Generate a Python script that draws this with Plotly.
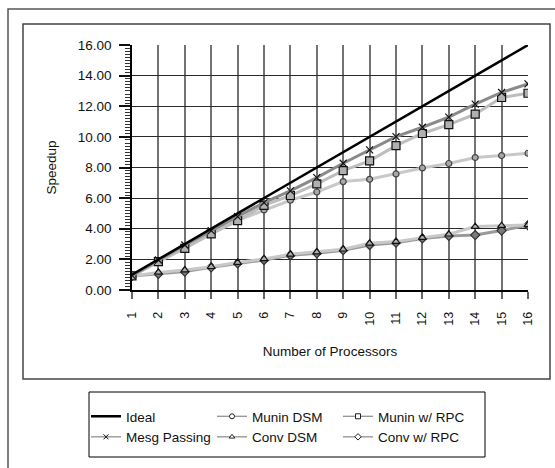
import plotly.graph_objects as go

# Speedup measurements per processor count
procs = list(range(1, 17))
ideal = [float(p) for p in procs]
mesg_passing = [0.95, 1.96, 2.94, 3.88, 4.79, 5.71, 6.47, 7.34, 8.28, 9.15, 10.02, 10.63, 11.29, 12.14, 12.90, 13.46]
munin_dsm = [0.92, 1.85, 2.85, 3.75, 4.55, 5.23, 5.86, 6.40, 7.08, 7.23, 7.58, 7.97, 8.26, 8.65, 8.78, 8.93]
munin_rpc = [0.92, 1.85, 2.72, 3.66, 4.53, 5.53, 6.17, 6.93, 7.80, 8.43, 9.43, 10.22, 10.80, 11.48, 12.57, 12.85]
conv_dsm = [0.92, 1.15, 1.30, 1.52, 1.79, 2.03, 2.33, 2.48, 2.66, 3.05, 3.16, 3.42, 3.64, 4.14, 4.20, 4.25]
conv_rpc = [0.92, 1.05, 1.20, 1.48, 1.74, 1.96, 2.27, 2.40, 2.60, 2.94, 3.09, 3.37, 3.53, 3.59, 3.88, 4.23]
y_ticks = [0, 2, 4, 6, 8, 10, 12, 14, 16]

W, H = 555, 468
ML, MR, MT, MB = 132, 27, 45, 178
PW, PH = W - ML - MR, H - MT - MB
FONT = "Liberation Sans, Arial, Helvetica, sans-serif"


def px(x):
    return (x - ML) / PW


def py(y):
    return (H - MB - y) / PH


fig = go.Figure()

# name, values, line colour, marker symbol, fill, edge, size, legend rank
series = [
    ("Conv w/ RPC", conv_rpc, "#9a9a9a", "diamond", "#7a7a7a", "#333333", 7, 6),
    ("Conv DSM", conv_dsm, "#c8c8c8", "triangle-up", "#b0b0b0", "#111111", 7, 5),
    ("Munin DSM", munin_dsm, "#c8c8c8", "circle", "#a8a8a8", "#444444", 6, 2),
    ("Munin w/ RPC", munin_rpc, "#bdbdbd", "square", "#b0b0b0", "#111111", 8, 3),
    ("Mesg Passing", mesg_passing, "#8a8a8a", "x-thin-open", "#111111", "#111111", 7, 4),
]

# data traces (back to front), then the ideal line on top
for name, vals, lc, sym, fill, edge, size, rank in series:
    fig.add_trace(go.Scatter(
        x=procs, y=vals, name=name, mode="lines+markers", showlegend=False,
        line=dict(color=lc, width=3),
        marker=dict(symbol=sym, size=size, color=fill, line=dict(color=edge, width=1.2)),
    ))
fig.add_trace(go.Scatter(
    x=procs, y=ideal, name="Ideal", mode="lines", showlegend=False,
    line=dict(color="#000000", width=2.5),
))

# compact legend keys
fig.add_trace(go.Scatter(
    x=[None], y=[None], name="Ideal", mode="lines", legendrank=1,
    line=dict(color="#000000", width=2.5),
))
for name, vals, lc, sym, fill, edge, size, rank in series:
    fig.add_trace(go.Scatter(
        x=[None], y=[None], name=name, mode="lines+markers", legendrank=rank,
        line=dict(color="#888888", width=1.2),
        marker=dict(symbol=sym, size=5, color="#ffffff" if sym != "x-thin-open" else "#111111",
                    line=dict(color="#222222", width=1)),
    ))

shapes = [
    # outer frame
    dict(type="rect", xref="paper", yref="paper", x0=px(8), x1=px(600), y0=py(9), y1=py(520),
         line=dict(color="#555555", width=1.5), layer="below"),
    # chart frame
    dict(type="rect", xref="paper", yref="paper", x0=px(23), x1=px(550), y0=py(24), y1=py(379),
         line=dict(color="#444444", width=1.5), layer="below"),
    # legend frame
    dict(type="rect", xref="paper", yref="paper", x0=px(89), x1=px(485), y0=py(392), y1=py(457),
         line=dict(color="#000000", width=1), layer="below"),
]

fig.update_layout(
    width=W, height=H,
    margin=dict(l=ML, r=MR, t=MT, b=MB, pad=0),
    paper_bgcolor="white", plot_bgcolor="white",
    font=dict(family=FONT, size=13, color="#111111"),
    shapes=shapes,
    showlegend=True,
    legend=dict(
        orientation="h", x=px(275), xanchor="center", y=py(401), yanchor="top",
        entrywidth=81, itemwidth=30, font=dict(size=13.5),
        bgcolor="rgba(0,0,0,0)", borderwidth=0,
    ),
    xaxis=dict(
        range=[1, 16], tickmode="array", tickvals=procs, ticktext=[str(p) for p in procs],
        tickangle=-90, ticks="outside", ticklen=7, tickwidth=1.5, tickcolor="#666666",
        tickfont=dict(size=12.5), ticklabelstandoff=8,
        showgrid=True, gridcolor="#737373", gridwidth=1.8,
        showline=True, linecolor="#000000", linewidth=1.5, zeroline=False,
        title=dict(text="Number of Processors", font=dict(size=13.5), standoff=22),
    ),
    yaxis=dict(
        range=[0, 16], tickmode="array", tickvals=y_ticks, ticktext=[f"{v:.2f}" for v in y_ticks],
        ticks="outside", ticklen=11, tickwidth=1.5, tickcolor="#111111",
        tickfont=dict(size=13.5), ticklabelstandoff=5,
        minor=dict(dtick=0.2, ticks="outside", ticklen=5, tickwidth=1, tickcolor="#333333", showgrid=False),
        showgrid=True, gridcolor="#2a2a2a", gridwidth=1.3,
        showline=True, linecolor="#000000", linewidth=1.5, zeroline=False,
        title=dict(text="Speedup", font=dict(size=13.5), standoff=18),
    ),
)

fig.write_html("out.html")
